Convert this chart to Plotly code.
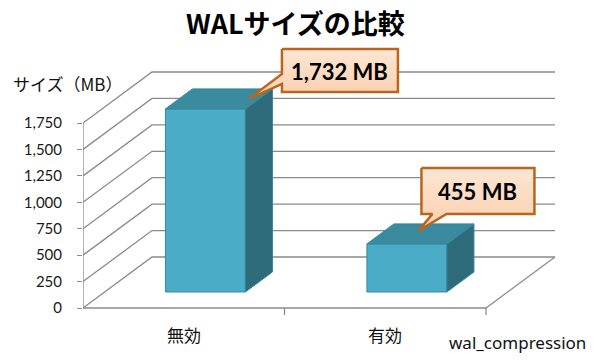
import plotly.graph_objects as go

# ---------------- data ----------------
categories = ["無効", "有効"]
sizes_mb = [1732, 455]
y_ticks = [0, 250, 500, 750, 1000, 1250, 1500, 1750]
title_text = "WALサイズの比較"
y_title = "サイズ（MB）"
x_title = "wal_compression"
label_suffix = " MB"

# ---------------- layout geometry (pixels) ----------------
W, H = 600, 360
ML = 83                      # left margin = front value axis
PX_PER_CAT = 201.5
PX_PER_MB = 185 / 1750
Y0_PX = 308                  # pixel row of value 0 on the front plane

x_max = (W - ML) / PX_PER_CAT
y_min = -(H - Y0_PX) / PX_PER_MB
y_max = Y0_PX / PX_PER_MB


def dxp(px):
    return px / PX_PER_CAT


def dyp(py):                 # py measured downward in pixels
    return -py / PX_PER_MB


def paper_x(px):
    return (px - ML) / (W - ML)


def paper_y(py):
    return 1 - py / H


DEPTH_DX, DEPTH_DY = dxp(69), dyp(-51)
BAR_HALF = dxp(40)
F0, F1 = 0.314, 0.706        # bar depth range (fraction of floor depth)

GRID_C = "#8A8A8A"
FRONT_C, TOP_C, SIDE_C, EDGE_C = "#4AACC6", "#3A8BA0", "#2F6C7B", "#35889C"
CALL_LINE = "#B8651F"

n = len(categories)
fig = go.Figure()

# ---- oblique gridlines (left wall + back wall) ----
gx, gy = [], []
for v in y_ticks:
    gx += [0, DEPTH_DX, n + DEPTH_DX, None]
    gy += [v, v + DEPTH_DY, v + DEPTH_DY, None]
# floor right edge
gx += [n, n + DEPTH_DX, None]
gy += [0, DEPTH_DY, None]
fig.add_trace(go.Scatter(x=gx, y=gy, mode="lines", line=dict(color=GRID_C, width=1.3),
                         hoverinfo="skip", showlegend=False))

# ---- front axes ----
ax_x = [0, 0, None, 0, n, None]
ax_y = [y_ticks[-1], 0, None, 0, 0, None]
for k in range(1, n + 1):
    ax_x += [k, k, None]
    ax_y += [0, dyp(7), None]
fig.add_trace(go.Scatter(x=ax_x, y=ax_y, mode="lines", line=dict(color=GRID_C, width=1.3),
                         hoverinfo="skip", showlegend=False))

# ---- 3D bars ----
ox0, oy0 = F0 * DEPTH_DX, F0 * DEPTH_DY
ox1, oy1 = F1 * DEPTH_DX, F1 * DEPTH_DY
for i, v in enumerate(sizes_mb):
    c = i + 0.5
    xl, xr = c - BAR_HALF, c + BAR_HALF
    faces = [
        ([xl + ox0, xr + ox0, xr + ox0, xl + ox0, xl + ox0],
         [oy0, oy0, v + oy0, v + oy0, oy0], FRONT_C),
        ([xr + ox0, xr + ox1, xr + ox1, xr + ox0, xr + ox0],
         [oy0, oy1, v + oy1, v + oy0, oy0], SIDE_C),
        ([xl + ox0, xr + ox0, xr + ox1, xl + ox1, xl + ox0],
         [v + oy0, v + oy0, v + oy1, v + oy1, v + oy0], TOP_C),
    ]
    for fx, fy, col in faces:
        fig.add_trace(go.Scatter(x=fx, y=fy, mode="lines", fill="toself", fillcolor=col,
                                 line=dict(color=EDGE_C, width=1), hoverinfo="skip",
                                 showlegend=False))

# ---- callouts ----
callout_style = [
    dict(tip=(30, 0), box=(33, 149, -50, -7), ptr=("left", -25, -15)),
    dict(tip=(-2, -3), box=(3, 116, -63, -17), ptr=("bottom", 14, 28)),
]
annotations = []
for i, v in enumerate(sizes_mb):
    st = callout_style[i]
    c = i + 0.5
    mid = (F0 + F1) / 2
    tx = c + mid * DEPTH_DX + dxp(st["tip"][0])
    ty = v + mid * DEPTH_DY + dyp(st["tip"][1])
    L, R, T, B = st["box"]
    side, p0, p1 = st["ptr"]
    if side == "left":
        pts = [(L, T), (R, T), (R, B), (L, B), (L, p1), (0, 0), (L, p0), (L, T)]
    else:
        pts = [(L, T), (R, T), (R, B), (p1, B), (0, 0), (p0, B), (L, B), (L, T)]
    px_ = [tx + dxp(a) for a, b in pts]
    py_ = [ty + dyp(b) for a, b in pts]
    fig.add_trace(go.Scatter(
        x=px_, y=py_, mode="lines", fill="toself",
        fillgradient=dict(type="vertical",
                          colorscale=[[0, "#FBCFAC"], [1, "#FDE6D3"]]),
        line=dict(color=CALL_LINE, width=2.5), hoverinfo="skip", showlegend=False))
    annotations.append(dict(
        x=tx + dxp((L + R) / 2), y=ty + dyp((T + B) / 2 + 1), xref="x", yref="y",
        xanchor="center", yanchor="middle",
        text=f"<b>{v:,}{label_suffix}</b>", showarrow=False,
        font=dict(family="Lato", size=22, color="#000000")))

# ---- category labels ----
for i, cat in enumerate(categories):
    annotations.append(dict(x=i + 0.5, y=dyp(26), xref="x", yref="y", text=cat,
                            xanchor="center", yanchor="middle", showarrow=False,
                            font=dict(family="Noto Sans CJK JP", size=17, color="#111111")))

annotations += [
    dict(x=paper_x(295), y=paper_y(22), xref="paper", yref="paper",
         xanchor="center", yanchor="middle",
         text=f"<b>{title_text}</b>", showarrow=False,
         font=dict(family="Noto Sans CJK JP", size=27, color="#000000")),
    dict(x=paper_x(11), y=paper_y(83), xref="paper", yref="paper",
         xanchor="left", yanchor="middle",
         text=y_title, showarrow=False,
         font=dict(family="Noto Sans CJK JP", size=17, color="#111111")),
    dict(x=paper_x(447), y=paper_y(342), xref="paper", yref="paper",
         xanchor="left", yanchor="middle",
         text=x_title, showarrow=False,
         font=dict(family="Noto Sans", size=17, color="#111111")),
]

fig.update_layout(
    width=W, height=H, margin=dict(l=ML, r=0, t=0, b=0),
    paper_bgcolor="white", plot_bgcolor="rgba(0,0,0,0)",
    xaxis=dict(range=[0, x_max], visible=False, fixedrange=True),
    yaxis=dict(range=[y_min, y_max], tickvals=y_ticks, tickformat=",d",
               showgrid=False, zeroline=False, showline=False,
               ticks="outside", ticklen=5, tickcolor=GRID_C, tickwidth=1.3,
               ticklabelstandoff=12,
               tickfont=dict(family="Lato", size=15, color="#1a1a1a"), fixedrange=True),
    annotations=annotations,
    showlegend=False,
)

fig.write_html("out.html")
